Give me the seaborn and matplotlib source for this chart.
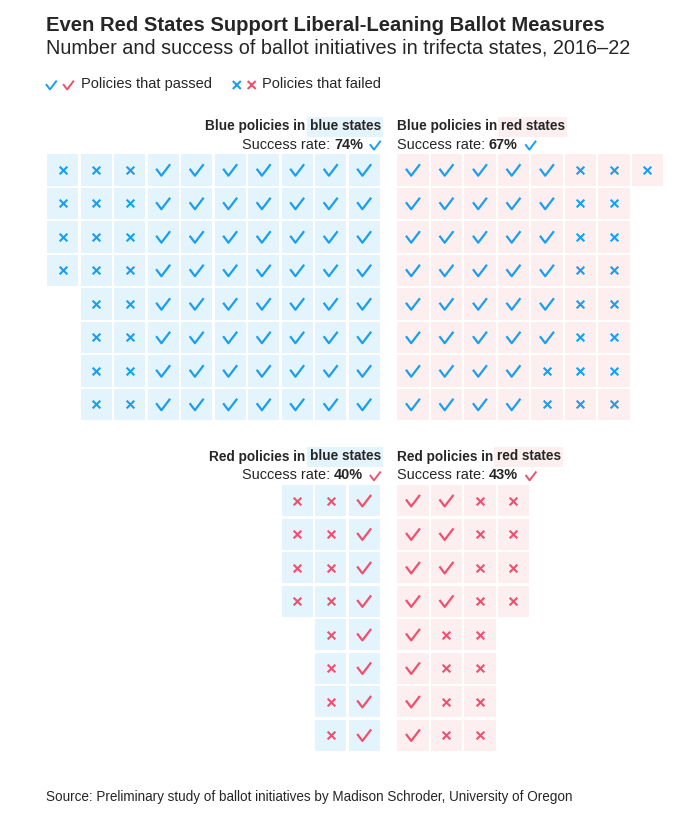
import numpy as np
import pandas as pd
import matplotlib.pyplot as plt
import seaborn as sns
from matplotlib.path import Path
from matplotlib.patches import Rectangle

# waffle rows, top to bottom: passed / failed initiatives per row
bb_pass = [7, 7, 7, 7, 7, 7, 7, 7]
bb_fail = [3, 3, 3, 3, 2, 2, 2, 2]
br_pass = [5, 5, 5, 5, 5, 5, 4, 4]
br_fail = [3, 2, 2, 2, 2, 2, 3, 3]
rb_pass = [1, 1, 1, 1, 1, 1, 1, 1]
rb_fail = [2, 2, 2, 2, 1, 1, 1, 1]
rr_pass = [2, 2, 2, 2, 1, 1, 1, 1]
rr_fail = [2, 2, 2, 2, 2, 2, 2, 2]

policies = ['Blue', 'Blue', 'Red', 'Red']
states = ['blue', 'red', 'blue', 'red']
passes = [bb_pass, br_pass, rb_pass, rr_pass]
fails = [bb_fail, br_fail, rb_fail, rr_fail]

title = 'Even Red States Support Liberal-Leaning Ballot Measures'
subtitle = 'Number and success of ballot initiatives in trifecta states, 2016\u201322'
source = 'Source: Preliminary study of ballot initiatives by Madison Schroder, University of Oregon'

BLUE = '#1a9ff0'
RED = '#f0506e'
BG = {'blue': '#e4f4fd', 'red': '#fdeef0'}
INK = {'Blue': BLUE, 'Red': RED}

# layout (pixels)
PITCH = 33.5
CELL = 31.3
X_RIGHT_EDGE = 379.8   # grids for blue states end here
X_LEFT_EDGE = 397.3    # grids for red states start here
TOPS = [154.3, 154.3, 485.0, 485.0]

check = Path([(-0.5, 0.085), (-0.125, -0.41), (0.5, 0.41)],
             [Path.MOVETO, Path.LINETO, Path.LINETO])

# build the cell table
cells = []
for k in range(4):
    for r, (p, f) in enumerate(zip(passes[k], fails[k])):
        if states[k] == 'blue':
            row = ['fail'] * f + ['pass'] * p
        else:
            row = ['pass'] * p + ['fail'] * f
        n = len(row)
        for j, res in enumerate(row):
            if states[k] == 'blue':
                cx = X_RIGHT_EDGE - (n - j - 1) * PITCH - CELL / 2
            else:
                cx = X_LEFT_EDGE + j * PITCH + CELL / 2
            cy = TOPS[k] + r * PITCH + CELL / 2
            cells.append(dict(panel=k, state=states[k], policy=policies[k],
                              result=res, x=cx, y=cy))
df = pd.DataFrame(cells)

sns.set_style('white')
plt.rcParams['font.family'] = ['Liberation Sans', 'DejaVu Sans']

fig = plt.figure(figsize=(6.78, 8.16), dpi=100)
ax = fig.add_axes([0, 0, 1, 1])
ax.set_xlim(0, 678)
ax.set_ylim(816, 0)
ax.axis('off')
renderer = fig.canvas.get_renderer()
px2pt = 72 / fig.dpi

# cell backgrounds
sns.scatterplot(data=df, x='x', y='y', hue='state', palette=BG, marker='s',
                s=(CELL * px2pt) ** 2, linewidth=0, legend=False, ax=ax, zorder=1)

# marks
for pol in ['Blue', 'Red']:
    d = df[(df.policy == pol) & (df.result == 'pass')]
    ax.scatter(d.x, d.y, marker=check, s=(14 * px2pt) ** 2, facecolors='none',
               edgecolors=INK[pol], linewidths=1.6, zorder=3)
    d = df[(df.policy == pol) & (df.result == 'fail')]
    ax.scatter(d.x, d.y, marker='x', s=(7.7 * px2pt) ** 2, c=INK[pol],
               linewidths=1.5, zorder=3)


def ext(t):
    return t.get_window_extent(renderer).transformed(ax.transData.inverted())


def highlight(t, base, color):
    e = ext(t)
    ax.add_patch(Rectangle((e.x0 - 3, base - 13.3), e.x1 - e.x0 + 5, 20,
                           fc=color, ec='none', zorder=2))


SPACE = 4.0
TFS = 9.85
SFS = 10.45
SMALL_CHECK = (10.8 * px2pt) ** 2
for k in range(4):
    pol, st = policies[k], states[k]
    top = TOPS[k]
    ty, sy = top - 24.5, top - 5.6
    col = INK[pol]
    rate = round(100 * sum(passes[k]) / (sum(passes[k]) + sum(fails[k])))
    if st == 'blue':
        t = ax.text(380.7, ty, f'{st} states', ha='right', va='baseline',
                    fontsize=TFS, fontweight='bold', zorder=4)
        highlight(t, ty, BG[st])
        ax.text(ext(t).x0 - SPACE, ty, f'{pol} policies in', ha='right', va='baseline',
                fontsize=TFS, fontweight='bold', zorder=5)
        ax.scatter([375.3], [sy - 3.5], marker=check, s=SMALL_CHECK,
                   facecolors='none', edgecolors=col, linewidths=1.4, zorder=5)
        t = ax.text(363, sy, f'{rate}%', ha='right', va='baseline',
                    fontsize=SFS, fontweight='bold')
        ax.text(ext(t).x0 - SPACE, sy, 'Success rate:', ha='right', va='baseline',
                fontsize=SFS)
    else:
        t = ax.text(396.7, ty, f'{pol} policies in', ha='left', va='baseline',
                    fontsize=TFS, fontweight='bold', zorder=5)
        t = ax.text(ext(t).x1 + SPACE, ty, f'{st} states', ha='left', va='baseline',
                    fontsize=TFS, fontweight='bold', zorder=4)
        highlight(t, ty, BG[st])
        t = ax.text(396.7, sy, 'Success rate:', ha='left', va='baseline', fontsize=SFS)
        t = ax.text(ext(t).x1 + SPACE, sy, f'{rate}%', ha='left', va='baseline',
                    fontsize=SFS, fontweight='bold')
        ax.scatter([ext(t).x1 + 13], [sy - 3.5], marker=check, s=SMALL_CHECK,
                   facecolors='none', edgecolors=col, linewidths=1.4, zorder=5)

# header
ax.text(46, 30.7, title, ha='left', va='baseline', fontsize=14.55, fontweight='bold')
ax.text(46, 53.3, subtitle, ha='left', va='baseline', fontsize=14.3)

# legend
ax.scatter([51.3, 68.5], [85, 85], marker=check, s=SMALL_CHECK,
           facecolors='none', edgecolors=[BLUE, RED], linewidths=1.4)
ax.text(81, 88.3, 'Policies that passed', ha='left', va='baseline', fontsize=10.5)
ax.scatter([236.8, 251.7], [85, 85], marker='x', s=(8 * px2pt) ** 2,
           c=[BLUE, RED], linewidths=1.5)
ax.text(262.5, 88.3, 'Policies that failed', ha='left', va='baseline', fontsize=10.5)

# source
ax.text(46, 800.5, source, ha='left', va='baseline', fontsize=9.75)

fig.savefig('out.png', dpi=100)
